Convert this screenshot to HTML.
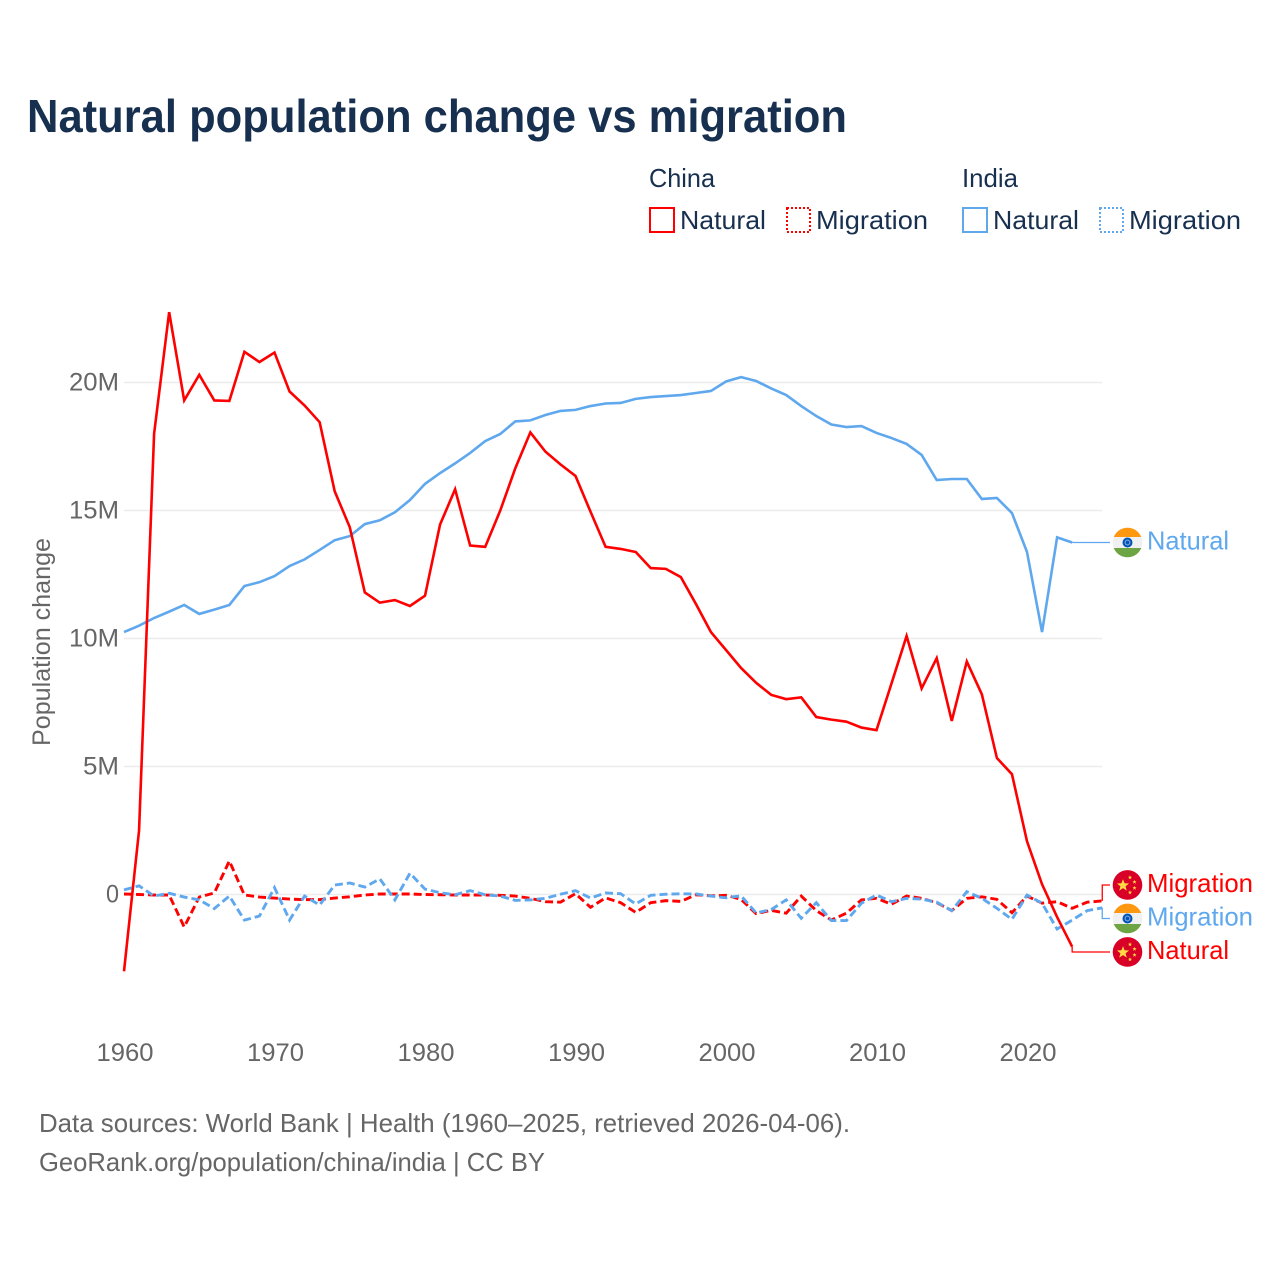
<!DOCTYPE html>
<html lang="en">
<head>
<meta charset="utf-8">
<title>Natural population change vs migration</title>
<style>
html,body{margin:0;padding:0;background:#fff}
svg{display:block}
text{font-family:"Liberation Sans",sans-serif}
</style>
</head>
<body>
<svg id="chart" xmlns="http://www.w3.org/2000/svg" width="1280" height="1280" viewBox="0 0 1280 1280">
  <rect x="0" y="0" width="1280" height="1280" fill="#ffffff"/>
  <text x="27" y="132" font-size="46" font-weight="700" fill="#18304f" textLength="820" lengthAdjust="spacingAndGlyphs">Natural population change vs migration</text>

  <g>
    <text x="649" y="187" font-size="26" fill="#18304f" textLength="66" lengthAdjust="spacingAndGlyphs">China</text>
    <text x="962" y="187" font-size="26" fill="#18304f" textLength="56" lengthAdjust="spacingAndGlyphs">India</text>
    <g>
      <rect x="650" y="208" width="24" height="24" fill="none" stroke="#ff0000" stroke-width="2"/>
      <text x="680" y="229" font-size="26" fill="#18304f" textLength="86" lengthAdjust="spacingAndGlyphs">Natural</text>
    </g>
    <g>
      <rect x="787" y="208" width="23" height="24" fill="none" stroke="#ff0000" stroke-width="2" stroke-dasharray="2 2"/>
      <text x="816" y="229" font-size="26" fill="#18304f" textLength="112" lengthAdjust="spacingAndGlyphs">Migration</text>
    </g>
    <g>
      <rect x="963" y="208" width="24" height="24" fill="none" stroke="#5fa8ee" stroke-width="2"/>
      <text x="993" y="229" font-size="26" fill="#18304f" textLength="86" lengthAdjust="spacingAndGlyphs">Natural</text>
    </g>
    <g>
      <rect x="1100" y="208" width="23" height="24" fill="none" stroke="#5fa8ee" stroke-width="2" stroke-dasharray="2 2"/>
      <text x="1129" y="229" font-size="26" fill="#18304f" textLength="112" lengthAdjust="spacingAndGlyphs">Migration</text>
    </g>
  </g>

  <text transform="translate(50,642) rotate(-90)" text-anchor="middle" font-size="25" fill="#666666" textLength="208" lengthAdjust="spacingAndGlyphs">Population change</text>

  <g id="grid"></g>
  <g id="yticks"></g>
  <g id="xticks"></g>
  <g id="series"></g>
  <g id="endlabels"></g>

  <text x="39" y="1132" font-size="26" fill="#666666" textLength="811" lengthAdjust="spacingAndGlyphs">Data sources: World Bank | Health (1960–2025, retrieved 2026-04-06).</text>
  <text x="39" y="1171" font-size="26" fill="#666666" textLength="506" lengthAdjust="spacingAndGlyphs">GeoRank.org/population/china/india | CC BY</text>
</svg>

<script>
var startYear = 1960;
var xTickYears = [1960, 1970, 1980, 1990, 2000, 2010, 2020];
var yTickValues = [0, 5, 10, 15, 20];
var yTickLabels = ['0', '5M', '10M', '15M', '20M'];

// Values in millions, one per year starting at 1960
var chinaNatural = [-3.0, 2.5, 18.0, 22.75, 19.3, 20.3, 19.3, 19.28, 21.2, 20.8, 21.17, 19.65, 19.1, 18.45, 15.75, 14.35, 11.8, 11.4, 11.5, 11.27, 11.67, 14.45, 15.83, 13.63, 13.58, 15.0, 16.65, 18.05, 17.3, 16.8, 16.35, 14.95, 13.58, 13.5, 13.38, 12.75, 12.72, 12.4, 11.35, 10.25, 9.55, 8.85, 8.27, 7.8, 7.63, 7.7, 6.93, 6.83, 6.75, 6.52, 6.42, 8.25, 10.1, 8.05, 9.23, 6.78, 9.1, 7.82, 5.33, 4.7, 2.08, 0.4, -0.88, -2.04];
var chinaMigration = [0.02, 0, -0.02, -0.02, -1.27, -0.1, 0.06, 1.31, -0.02, -0.1, -0.14, -0.18, -0.2, -0.2, -0.14, -0.09, -0.02, 0.02, 0.02, 0.02, 0, -0.01, -0.02, -0.02, -0.02, -0.03, -0.06, -0.15, -0.28, -0.3, 0.03, -0.5, -0.13, -0.32, -0.7, -0.32, -0.24, -0.27, -0.01, -0.05, -0.03, -0.19, -0.75, -0.62, -0.73, -0.06, -0.63, -1.0, -0.73, -0.21, -0.15, -0.38, -0.06, -0.15, -0.32, -0.63, -0.15, -0.09, -0.19, -0.71, -0.06, -0.34, -0.28, -0.54, -0.3, -0.25];
var indiaNatural = [10.25, 10.5, 10.8, 11.05, 11.31, 10.96, 11.13, 11.31, 12.05, 12.2, 12.44, 12.83, 13.09, 13.46, 13.84, 14.0, 14.47, 14.62, 14.93, 15.41, 16.04, 16.46, 16.84, 17.25, 17.71, 17.99, 18.48, 18.52, 18.73, 18.89, 18.93, 19.08, 19.18, 19.2, 19.36, 19.43, 19.47, 19.51, 19.59, 19.67, 20.04, 20.21, 20.06, 19.77, 19.51, 19.08, 18.69, 18.36, 18.26, 18.3, 18.03, 17.83, 17.6, 17.17, 16.19, 16.23, 16.23, 15.45, 15.49, 14.9, 13.38, 10.25, 13.95, 13.75];
var indiaMigration = [0.18, 0.34, -0.06, 0.05, -0.1, -0.21, -0.55, -0.06, -1.0, -0.84, 0.27, -1.0, -0.06, -0.41, 0.37, 0.45, 0.29, 0.61, -0.21, 0.83, 0.21, 0.07, -0.01, 0.15, -0.01, -0.06, -0.23, -0.21, -0.15, 0.01, 0.15, -0.14, 0.06, 0.03, -0.37, -0.03, 0.01, 0.03, 0.02, -0.06, -0.13, -0.05, -0.72, -0.59, -0.21, -0.93, -0.32, -1.02, -1.02, -0.34, -0.02, -0.28, -0.15, -0.18, -0.3, -0.63, 0.11, -0.15, -0.54, -0.97, -0.02, -0.34, -1.35, -1.0, -0.63, -0.52];

var SVGNS = 'http://www.w3.org/2000/svg';
var RED = '#ff0000';
var BLUE = '#5fa8ee';
function xScale(year) { return 124 + (year - 1960) * 15.05; }
function yScale(v) { return 894.5 - v * 25.6; }
function make(tag, attrs, parent) {
  var el = document.createElementNS(SVGNS, tag);
  for (var k in attrs) { el.setAttribute(k, attrs[k]); }
  parent.appendChild(el);
  return el;
}

// Gridlines and y-axis tick labels
var gridGroup = document.getElementById('grid');
var yTickGroup = document.getElementById('yticks');
yTickValues.forEach(function (v, i) {
  var line = make('line', { x1: xScale(1960), x2: xScale(2025), y1: yScale(v), y2: yScale(v), stroke: '#ececec', 'stroke-width': 1.5 }, gridGroup);
  
  
  var label = make('text', { x: 119, y: yScale(v) + 8, 'text-anchor': 'end', 'font-size': 25, fill: '#666666', textLength: [13, 36, 50, 50, 50][i], lengthAdjust: 'spacingAndGlyphs' }, yTickGroup);
  
  
  label.textContent = yTickLabels[i];
});

// X-axis tick labels
var xTickGroup = document.getElementById('xticks');
xTickYears.forEach(function (yr) {
  var label = make('text', { x: xScale(yr) + 1, y: 1061, 'text-anchor': 'middle', 'font-size': 25, fill: '#666666', textLength: 57, lengthAdjust: 'spacingAndGlyphs' }, xTickGroup);
  
  
  label.textContent = String(yr);
});

// Series lines
function linePath(values) {
  return values.map(function (v, i) {
    return (i ? 'L' : 'M') + xScale(startYear + i).toFixed(2) + ' ' + yScale(v).toFixed(2);
  }).join(' ');
}
var seriesGroup = document.getElementById('series');
function drawLine(values, color, dashed, name) {
  var attrs = { d: linePath(values), fill: 'none', stroke: color, 'stroke-width': dashed ? 2.9 : 2.6, 'stroke-linejoin': 'miter' };
  if (dashed) { attrs['stroke-dasharray'] = '8 4'; }
  var p = make('path', attrs, seriesGroup);
  
  
}
drawLine(chinaMigration, RED, true, 'line-china-migration');
drawLine(indiaMigration, BLUE, true, 'line-india-migration');
drawLine(indiaNatural, BLUE, false, 'line-india-natural');
drawLine(chinaNatural, RED, false, 'line-china-natural');

// End labels, dodged so they do not overlap
var endEntries = [
  { values: chinaMigration, color: RED, flag: 'china', text: 'Migration', width: 106 },
  { values: indiaMigration, color: BLUE, flag: 'india', text: 'Migration', width: 106 },
  { values: chinaNatural, color: RED, flag: 'china', text: 'Natural', width: 82 },
  { values: indiaNatural, color: BLUE, flag: 'india', text: 'Natural', width: 82 }
];
endEntries.forEach(function (e) {
  var last = e.values.length - 1;
  e.px = xScale(startYear + last);
  e.py = yScale(e.values[last]);
});
function dodge(entries, gap) {
  var sorted = entries.slice().sort(function (a, b) { return a.py - b.py; });
  var clusters = sorted.map(function (e) { return { items: [e], sum: e.py }; });
  var merged = true;
  function centre(c) { return c.sum / c.items.length; }
  while (merged) {
    merged = false;
    for (var i = 0; i < clusters.length - 1; i++) {
      var a = clusters[i], b = clusters[i + 1];
      var aEnd = centre(a) + (a.items.length - 1) * gap / 2;
      var bStart = centre(b) - (b.items.length - 1) * gap / 2;
      if (bStart - aEnd < gap) {
        clusters.splice(i, 2, { items: a.items.concat(b.items), sum: a.sum + b.sum });
        merged = true;
        break;
      }
    }
  }
  clusters.forEach(function (c) {
    var top = centre(c) - (c.items.length - 1) * gap / 2;
    c.items.forEach(function (e, j) { e.ly = top + j * gap; });
  });
}
dodge(endEntries, 33.5);

var FLAG_X = 1127.5;
var FLAG_R = 14.8;
function starPoints(cx, cy, r) {
  var pts = [];
  for (var i = 0; i < 10; i++) {
    var a = -Math.PI / 2 + i * Math.PI / 5;
    var rr = i % 2 ? r * 0.42 : r;
    pts.push((cx + rr * Math.cos(a)).toFixed(2) + ',' + (cy + rr * Math.sin(a)).toFixed(2));
  }
  return pts.join(' ');
}
function drawChinaFlag(parent, cy) {
  var g = make('g', {}, parent);
  
  
  make('circle', { cx: FLAG_X, cy: cy, r: FLAG_R, fill: '#d80027' }, g);
  make('polygon', { points: starPoints(FLAG_X - 4.5, cy + 0.5, 6.4), fill: '#ffda44' }, g);
  make('polygon', { points: starPoints(FLAG_X + 2.5, cy - 7.5, 2.2), fill: '#ffda44' }, g);
  make('polygon', { points: starPoints(FLAG_X + 7, cy - 3, 2.2), fill: '#ffda44' }, g);
  make('polygon', { points: starPoints(FLAG_X + 7, cy + 3, 2.2), fill: '#ffda44' }, g);
  make('polygon', { points: starPoints(FLAG_X + 2.5, cy + 7.5, 2.2), fill: '#ffda44' }, g);
}
function capPath(cy, dy) {
  // circular cap cut off by a horizontal chord dy away from the centre
  var w = Math.sqrt(FLAG_R * FLAG_R - dy * dy);
  var sweep = dy < 0 ? 1 : 0;
  return 'M' + (FLAG_X - w) + ' ' + (cy + dy) + ' A' + FLAG_R + ' ' + FLAG_R + ' 0 0 ' + sweep + ' ' + (FLAG_X + w) + ' ' + (cy + dy) + ' Z';
}
function drawIndiaFlag(parent, cy) {
  var g = make('g', {}, parent);
  
  
  make('circle', { cx: FLAG_X, cy: cy, r: FLAG_R, fill: '#f0f0f0' }, g);
  make('path', { d: capPath(cy, -5.5), fill: '#ff9811' }, g);
  make('path', { d: capPath(cy, 5.5), fill: '#6da544' }, g);
  make('circle', { cx: FLAG_X, cy: cy, r: 5, fill: '#0052b4' }, g);
  make('circle', { cx: FLAG_X, cy: cy, r: 3, fill: '#6f9fd8' }, g);
  make('circle', { cx: FLAG_X, cy: cy, r: 1.7, fill: '#0052b4' }, g);
}
var endGroup = document.getElementById('endlabels');
endEntries.forEach(function (e) {
  var g = make('g', {}, endGroup);
  
  
  var d = 'M' + e.px + ' ' + e.py + ' L' + e.px + ' ' + e.ly + ' L1110 ' + e.ly;
  var c = make('path', { d: d, fill: 'none', stroke: e.color, 'stroke-width': 1.3 }, g);
  
  
  if (e.flag === 'china') { drawChinaFlag(g, e.ly); } else { drawIndiaFlag(g, e.ly); }
  var t = make('text', { x: 1147, y: e.ly + 6.8, 'font-size': 26, fill: e.color, textLength: e.width, lengthAdjust: 'spacingAndGlyphs' }, g);
  
  
  t.textContent = e.text;
});
</script>
</body>
</html>
